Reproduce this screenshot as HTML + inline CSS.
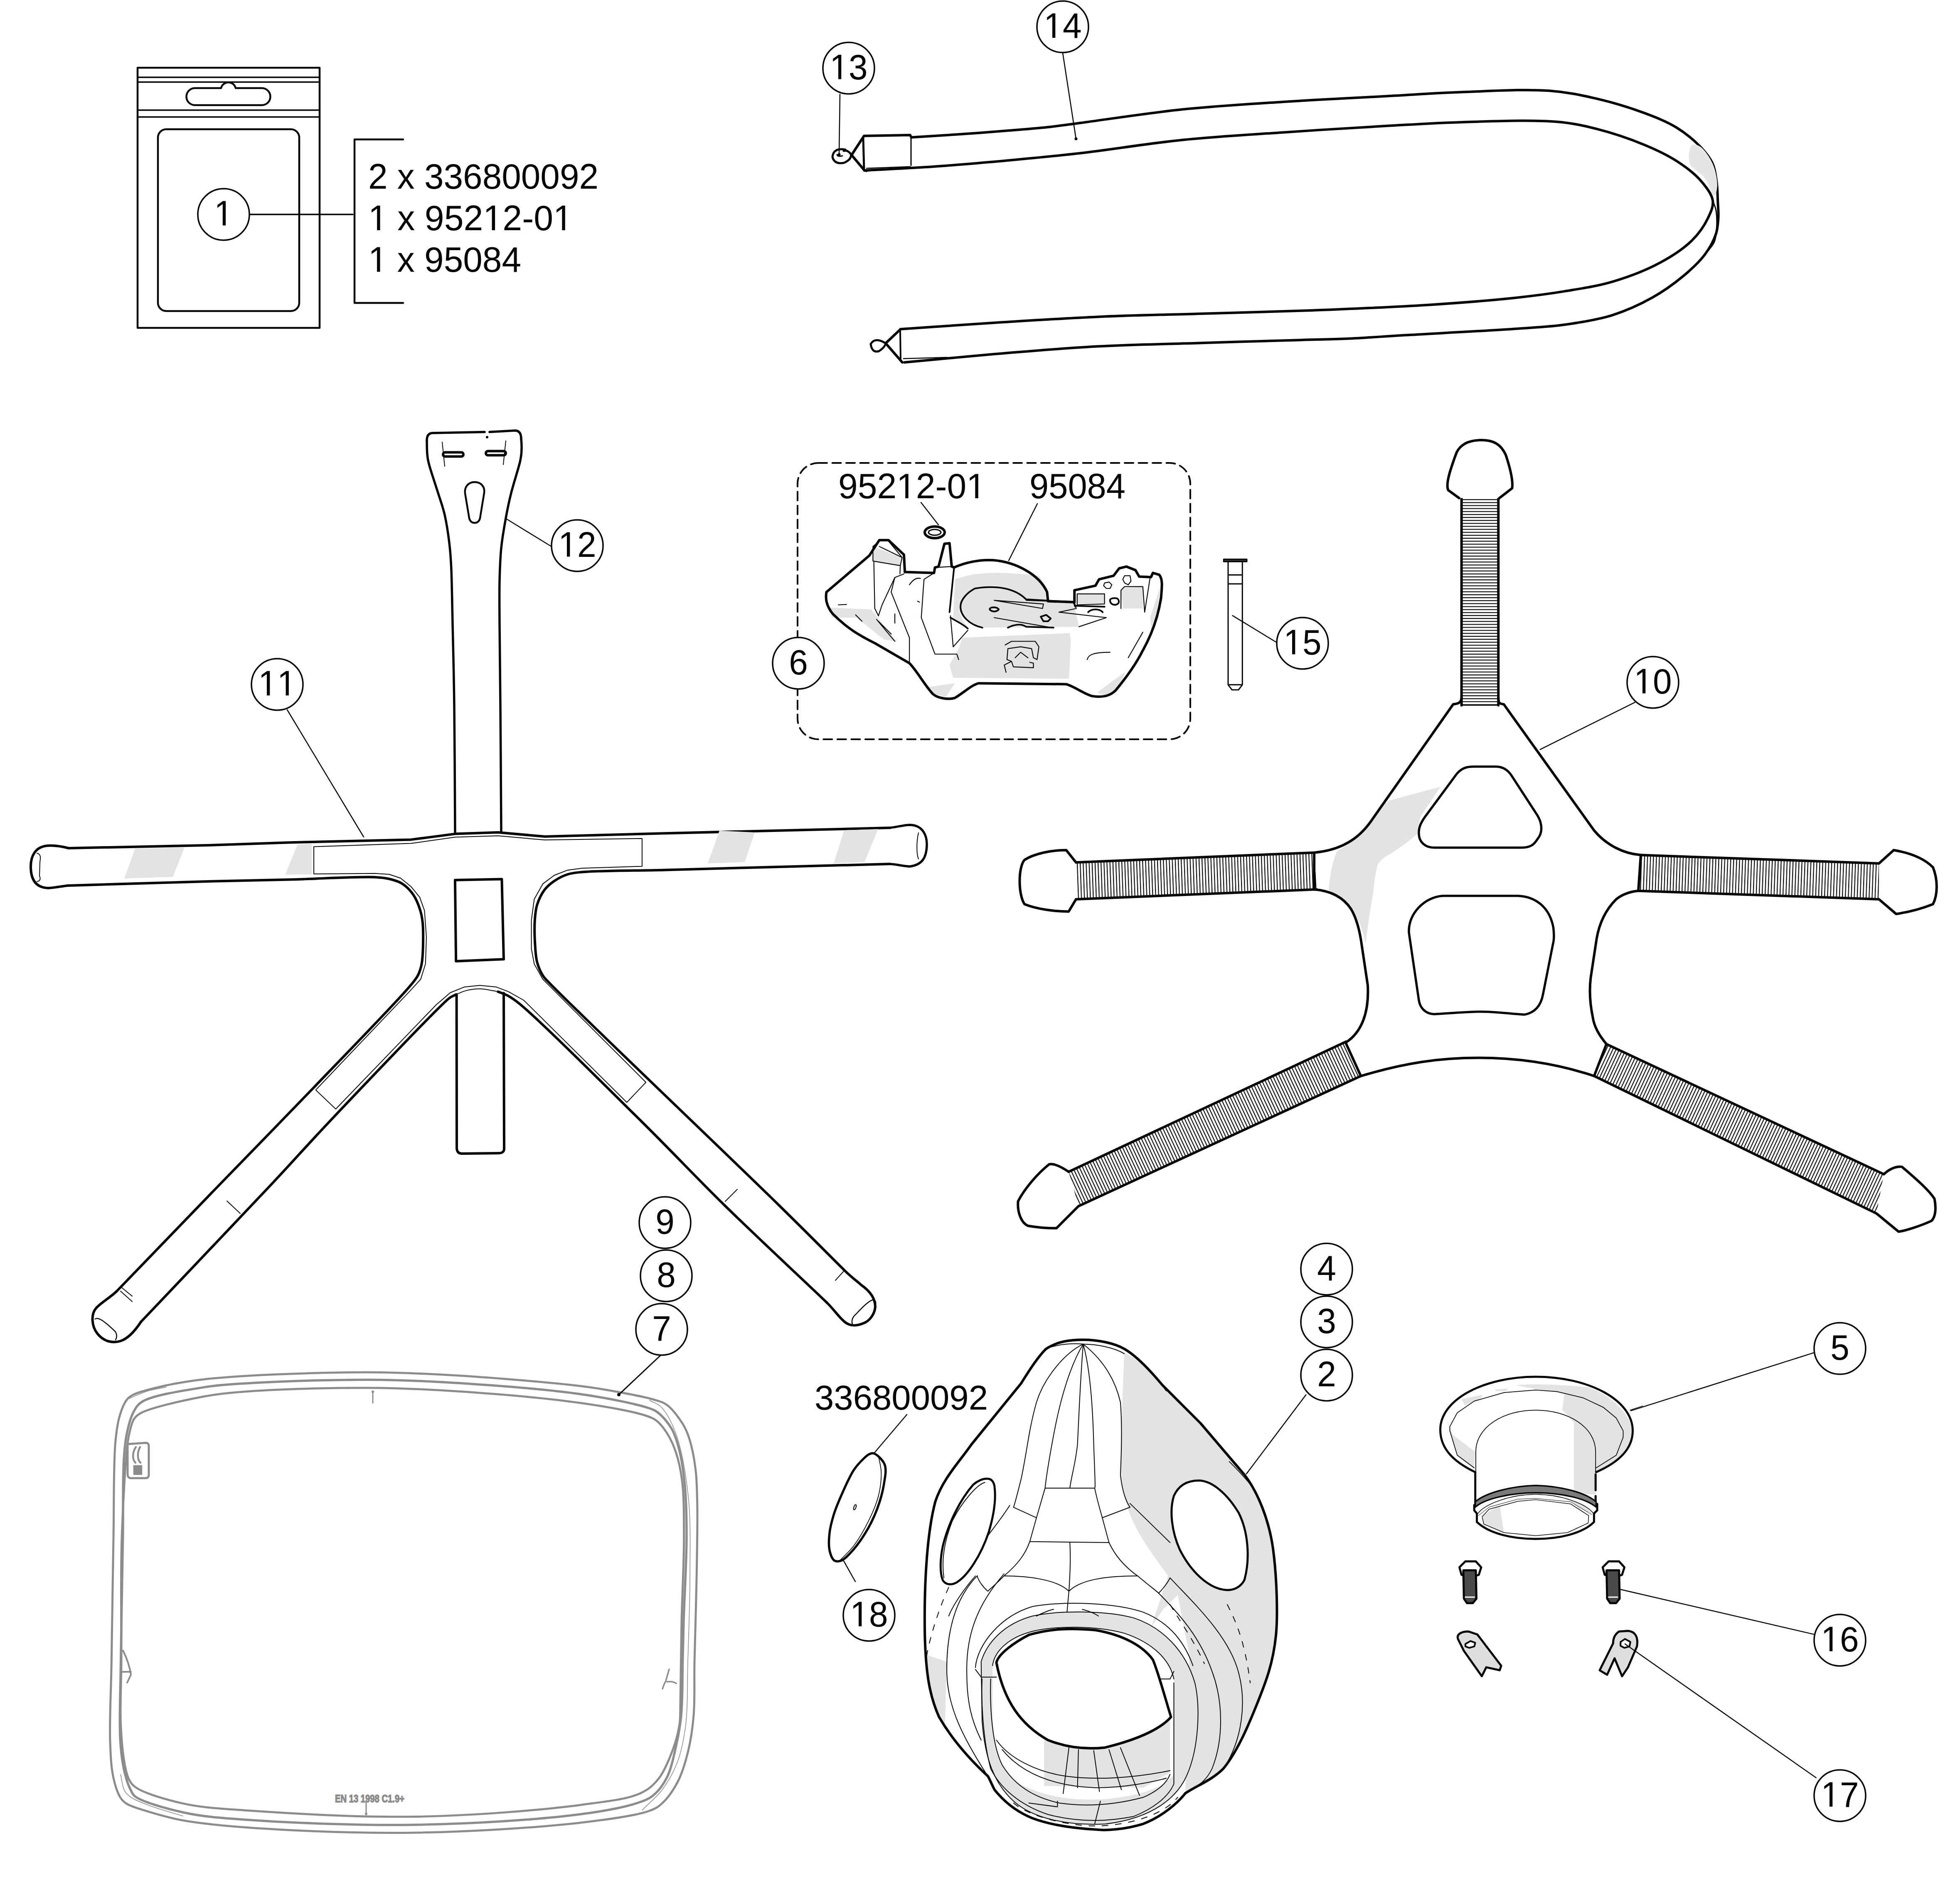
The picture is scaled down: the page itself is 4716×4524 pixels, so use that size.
<!DOCTYPE html>
<html><head><meta charset="utf-8">
<style>
html,body{margin:0;padding:0;background:#fff;width:4716px;height:4524px;overflow:hidden}
svg{display:block}
text{font-family:"Liberation Sans",sans-serif;fill:#050505}
path,line,rect,circle,ellipse,polygon,polyline{stroke-linejoin:round;stroke-linecap:round}
.ns *{vector-effect:non-scaling-stroke}
</style></head><body>
<svg width="4716" height="4524" viewBox="0 0 4716 4524" xmlns="http://www.w3.org/2000/svg">
<defs>
<pattern id="hh" width="20" height="7.3" patternUnits="userSpaceOnUse"><rect width="20" height="7.3" fill="#fff"/><rect y="0" width="20" height="1.6" fill="#222"/></pattern>
</defs>
<!-- BAG -->
<g fill="none" stroke="#050505" stroke-width="4.5">
<rect x="331" y="163" width="438" height="626" stroke-linejoin="miter"/>
<line x1="331" y1="186" x2="769" y2="186" stroke-width="3.5"/>
<line x1="331" y1="197.5" x2="769" y2="197.5" stroke-width="3.5"/>
<line x1="331" y1="265" x2="769" y2="265" stroke-width="3.5"/>
<line x1="331" y1="281.5" x2="769" y2="281.5" stroke-width="3.5"/>
<path d="M469 212 H532 A18 18 0 0 1 567 212 H630 A20.5 20.5 0 0 1 630 253 H469 A20.5 20.5 0 0 1 469 212 Z"/>
<rect x="380" y="311" width="340" height="437.5" rx="20"/>
<line x1="601" y1="516" x2="849" y2="516" stroke-width="3.5"/>
<path d="M970 335.5 H853 V729 H970" stroke-linecap="butt" stroke-linejoin="miter"/>
</g>
<g font-size="86">
<text x="886" y="454" textLength="554" lengthAdjust="spacingAndGlyphs">2 x 336800092</text>
<text x="886" y="554" textLength="492" lengthAdjust="spacingAndGlyphs">  x 952 2-0 </text>
<text x="886" y="654" textLength="368" lengthAdjust="spacingAndGlyphs">  x 95084</text>
</g>
<path d="M2192.9 330.6C2230.6 328.2 2267.6 326 2306.1 323.3C2346.1 320.5 2390.7 317.1 2428.6 314.1C2461.4 311.4 2490.9 309.3 2520.4 306.1C2547.9 303.1 2566.2 300.2 2600 295.7C2659.3 287.9 2763.1 271.7 2844.9 263.3C2926.4 254.8 3008.1 250.2 3089.8 244.9C3171.4 239.6 3258.9 235.5 3334.7 231.4C3400.3 227.9 3455.2 223.8 3518.4 221.6C3585.6 219.3 3667.6 213.9 3726.6 218.3C3770.7 221.6 3803.5 228.6 3841.5 237.4C3880.1 246.4 3922.3 259.2 3956.4 271.9C3984.9 282.6 4010.1 292.4 4033 306.4C4054.4 319.5 4075.1 336.3 4090.4 352.4C4103.4 365.9 4114.4 379.4 4121.1 394.5C4127.4 408.8 4128.6 425 4130.7 440.4C4132.7 455.7 4132.7 471.8 4133.3 486.4C4133.9 499.7 4135.3 512 4134.5 524.7C4133.7 537.5 4133.1 549.8 4128.8 563C4123.4 579 4113.7 597 4101.9 612.8C4088.8 630.4 4071.3 646.5 4052.2 662.6C4030 681.1 4003.3 700.6 3975.6 716.2C3946.2 732.7 3913.8 747.6 3879.8 758.3C3843.8 769.7 3803.4 775.9 3764.9 781.3C3726.8 786.7 3696.4 787.6 3650 790.9C3579.1 795.9 3455.9 802.2 3380.6 806.6C3326.3 809.8 3284.3 813.1 3240.3 815C3201.2 816.8 3173.7 816.9 3129.6 818.2C3064 820.1 2966.3 822.9 2884.7 825.5C2803.1 828 2721.5 829.1 2640 833.5C2558.3 837.9 2474.3 845.2 2395 851.8C2319.9 858.1 2249 865.3 2176 872" fill="none" stroke="#050505" stroke-width="6" />
<path d="M2079.6 410.2C2134.7 407.1 2188.4 404.9 2244.9 401C2304.5 396.9 2368.4 391.2 2428.6 385.7C2486.7 380.4 2537.8 375.7 2600 368.6C2674.4 360 2763.1 345.1 2844.9 336.7C2926.4 328.4 3008.1 324 3089.8 318.4C3171.4 312.8 3258.9 307.3 3334.7 303.1C3400.3 299.4 3453.8 295.6 3518.4 293.9C3590.1 291.9 3686.3 287.8 3745.8 293C3784.7 296.4 3808.4 301.8 3841.5 310.2C3878.4 319.6 3922.4 334.4 3956.4 348.5C3985 360.4 4010 372.1 4033 386.8C4054.3 400.5 4075.4 415.7 4090.4 432.8C4103.9 448 4118.7 466.2 4121.1 482.6C4123.1 496.8 4116.4 510.4 4109.6 524.7C4101.3 542.2 4088 561.8 4071.3 578.3C4051.4 598.1 4023.8 616.2 3994.7 631.9C3961.2 650.1 3918.6 666.4 3879.8 677.9C3842 689.1 3803.3 694.5 3764.9 700.9C3726.7 707.2 3694.2 711.4 3650 716.2C3589.9 722.7 3514.3 728.7 3436.7 733.7C3343.7 739.6 3226.2 744.2 3129.6 747.8C3043.4 751.1 2966.3 752.6 2884.7 755C2803.1 757.4 2721.6 758.8 2640 762.4C2558.3 766 2475.2 771.5 2395 776.5C2317.6 781.4 2243 786.8 2167 792" fill="none" stroke="#050505" stroke-width="6" />
<path d="M4121.1 482.6C4123.6 490.2 4127.1 496.8 4128.8 505.6C4130.8 516.6 4131.3 531.1 4130.7 543.9C4130 556.6 4129.7 570.6 4124.9 582.2C4120.1 593.6 4109.6 602.6 4101.9 612.8" fill="none" stroke="#050505" stroke-width="3" />
<path d="M4071.3 348.5C4064.7 353.2 4061.1 379.5 4065.6 392.6C4070.3 406.6 4091.9 415.6 4101.9 429C4111.6 441.8 4119.8 471.6 4124.9 471.1C4128.5 470.7 4131.4 457.4 4131.8 448.1C4132.5 434 4128.2 410.6 4121.1 394.5C4114.2 378.8 4100.8 359 4090.4 352.4C4084.1 348.3 4075.6 345.4 4071.3 348.5Z" fill="#e6e6e6" stroke="none" stroke-width="0" />
<path d="M2193 331 L2190 325 L2079 327 L2049 373 L2080 410 L2085 411" fill="none" stroke="#050505" stroke-width="6" />
<path d="M2192 327 L2192 398" fill="none" stroke="#050505" stroke-width="3" />
<path d="M2077 333 L2079 408" fill="none" stroke="#050505" stroke-width="5" />
<path d="M2085 405 L2190 401" fill="none" stroke="#050505" stroke-width="2.5" />
<path d="M2034 360 Q2005 355 2003 378 Q2008 396 2030 392 Q2048 385 2048 372 Q2040 360 2030 363" fill="none" stroke="#050505" stroke-width="5" />
<path d="M2027 375 Q2015 378 2014 372" fill="none" stroke="#050505" stroke-width="3" />
<path d="M2166 793 L2131 826 L2171 872" fill="none" stroke="#050505" stroke-width="6" />
<path d="M2166 797 L2167 866" fill="none" stroke="#050505" stroke-width="4" />
<path d="M2174 863 L2279 860" fill="none" stroke="#050505" stroke-width="2.5" />
<path d="M2131 826 Q2105 810 2095 828 Q2098 850 2115 845 Q2130 835 2131 826" fill="none" stroke="#050505" stroke-width="5" />
<path d="M2557 127 L2589 334" fill="none" stroke="#050505" stroke-width="2.5" />
<circle cx="2589" cy="334" r="3.5" fill="#050505"/>
<path d="M2021 227 L2019 372" fill="none" stroke="#050505" stroke-width="2.5" />
<circle cx="2019" cy="372" r="3.5" fill="#050505"/>
<path d="M1095 2003C1094.7 1952.5 1094 1783.8 1093 1700C1092 1616.2 1090.2 1554.7 1089 1500C1087.8 1445.3 1087.3 1404.3 1086 1372C1084.7 1339.7 1083.7 1328.2 1081 1306C1078.3 1283.8 1074.5 1259 1070 1239C1065.5 1219 1060.2 1205.8 1054 1186C1047.8 1166.2 1037.3 1135.5 1033 1120C1028.7 1104.5 1029 1103 1028 1093C1027 1083 1027.2 1065.5 1027 1060" fill="none" stroke="#050505" stroke-width="5.5" />
<path d="M1206 2003C1205.7 1952.5 1204.7 1783.8 1204 1700C1203.3 1616.2 1202.3 1550.2 1202 1500C1201.7 1449.8 1201.3 1429.2 1202 1399C1202.7 1368.8 1203.5 1344.3 1206 1319C1208.5 1293.7 1213 1269.2 1217 1247C1221 1224.8 1224.3 1208.5 1230 1186C1235.7 1163.5 1246.8 1129.7 1251 1112C1255.2 1094.3 1254.5 1089.3 1255 1080C1255.5 1070.7 1254.2 1060 1254 1056" fill="none" stroke="#050505" stroke-width="5.5" />
<path d="M1027 1060 Q1027 1043 1040 1042 L1166 1039.5 M1178 1039.5 L1240 1036 Q1254 1037 1254 1056" fill="none" stroke="#050505" stroke-width="5.5" />
<circle cx="1172" cy="1052" r="3" fill="#050505"/>
<path d="M1071 1088.5 H1110 A5 5 0 0 1 1110 1098.5 H1071 A5 5 0 0 1 1071 1088.5 Z" fill="none" stroke="#050505" stroke-width="6" />
<path d="M1174 1085.5 H1212 A5 5 0 0 1 1212 1095.5 H1174 A5 5 0 0 1 1174 1085.5 Z" fill="none" stroke="#050505" stroke-width="6" />
<path d="M1064 1064 L1070 1122 M1217 1061 L1211 1118" fill="none" stroke="#050505" stroke-width="2" />
<path d="M1142 1160 C1158 1160 1167 1172 1165 1186 L1155 1247 C1152 1262 1132 1262 1129 1247 L1119 1187 C1117 1172 1127 1160 1142 1160 Z" fill="none" stroke="#050505" stroke-width="4.5" />
<path d="M1219 1249 L1325 1314" fill="none" stroke="#050505" stroke-width="2.5" />
<path d="M691 1708 L875 2014" fill="none" stroke="#050505" stroke-width="2.5" />
<path d="M165 2041 L500 2034 L700 2027.3 L989.3 2020.4 L1094.9 2006.6 L1198.2 2003 L1310.7 2013.1 L1600 2005.3 L2141 1992" fill="none" stroke="#050505" stroke-width="6" />
<path d="M165 2041 C150 2037 135 2034 115 2035 C85 2037 74 2060 74 2085 C74 2115 85 2136 116 2137 C135 2136 150 2132 165 2131" fill="none" stroke="#050505" stroke-width="6" />
<path d="M89 2053 C100 2056 97 2066 96 2075 L95 2108 C99 2116 95 2121 89 2121" fill="none" stroke="#050505" stroke-width="2" />
<path d="M2141 1992 C2160 1990 2175 1985 2190 1985 C2220 1986 2231 2010 2230 2035 C2229 2065 2218 2081 2190 2085 C2175 2085 2160 2080 2141 2079" fill="none" stroke="#050505" stroke-width="5.5" />
<path d="M2210 2004 C2205 2025 2205 2055 2210 2067" fill="none" stroke="#050505" stroke-width="2" />
<path d="M165 2131C276.7 2127.7 402.7 2123.6 500 2121C575.2 2119 633 2118.1 700 2116.4C767.7 2114.7 864.7 2108.8 904.3 2110.9C920.7 2111.7 927.9 2112.7 938.8 2115.5C949.2 2118.1 959.6 2121.1 968.6 2126.9C978.1 2133.1 987 2142.4 993.9 2152.2C1000.9 2162.3 1006.1 2175.1 1009.9 2186.6C1013.5 2197.3 1015.4 2206.3 1016.8 2218.8C1018.7 2235.5 1018.3 2260.4 1017.8 2278.5C1017.3 2293.5 1017 2307.5 1014.5 2319.8C1012.5 2330 1010 2338.5 1005.4 2347.3C1000.3 2357 995.9 2361.6 984.7 2374.9C949.7 2416.4 829.8 2539 753 2619C677.9 2697.3 605.5 2770.9 529 2850C448.4 2933.3 363.7 3021.3 281 3107" fill="none" stroke="#050505" stroke-width="6" />
<path d="M281 3107 C262 3125 245 3133 232 3147 C218 3162 220 3192 235 3210 C250 3228 270 3233 290 3227 C305 3222 320 3210 339 3181" fill="none" stroke="#050505" stroke-width="6" />
<path d="M339 3181C443.7 3070.7 569.6 2939 653 2850C708.8 2790.4 737.8 2757.3 791.8 2700C866 2621.4 1016 2464.1 1058.2 2423.1C1070.7 2410.9 1075.9 2405.3 1083.4 2400.1C1088.4 2396.7 1092.6 2395.6 1097.2 2393.3" fill="none" stroke="#050505" stroke-width="6" />
<path d="M229 3174 C235 3170 245 3173 278 3205 C282 3212 281 3220 278 3224" fill="none" stroke="#050505" stroke-width="2.5" />
<path d="M546 2890 L578 2920 M290 3096 L318 3119 M290 3107 L318 3132" fill="none" stroke="#050505" stroke-width="2" />
<path d="M2141 2079C2027.3 2082 1898.6 2085.4 1800 2088C1724.5 2090 1666.6 2091.7 1600 2093.4C1533.4 2095.2 1439.2 2094.9 1400.2 2098.5C1384 2100 1376.8 2100.4 1365.8 2104C1354.6 2107.6 1343.1 2113.6 1333.7 2120C1324.9 2126 1317.3 2132.1 1310.7 2140.7C1303.1 2150.7 1296.3 2164.9 1292.3 2177.4C1288.6 2189.4 1287.8 2200.2 1286.8 2214.2C1285.6 2232.6 1286.5 2260 1287.8 2278.5C1288.7 2292.4 1289.2 2303.6 1292.3 2315.2C1295.4 2326.5 1300.3 2338.2 1306.1 2347.3C1311.3 2355.5 1313.8 2356.8 1324.5 2368C1380.8 2426.8 1746.9 2775.4 1874 2900C1942.1 2966.8 1978 3003.3 2030 3055" fill="none" stroke="#050505" stroke-width="6" />
<path d="M2030 3055 C2050 3075 2065 3085 2072 3092 C2095 3108 2106 3125 2106 3145 C2104 3165 2090 3180 2078 3184 C2060 3192 2045 3190 2035 3183 C2020 3172 2010 3155 1990 3135" fill="none" stroke="#050505" stroke-width="6" />
<path d="M1198.2 2386.4C1205.9 2389.4 1213.3 2391.3 1221.2 2395.6C1230.7 2400.7 1236.6 2404.4 1251 2416.2C1299.2 2455.7 1457 2613.2 1544.9 2700C1617.9 2772 1672.8 2831.2 1743 2900C1820.3 2975.7 1907.7 3056.7 1990 3135" fill="none" stroke="#050505" stroke-width="6" />
<path d="M2052 3190 C2048 3180 2050 3170 2060 3162 C2080 3140 2092 3130 2100 3128 C2105 3128 2108 3132 2107 3137" fill="none" stroke="#050505" stroke-width="2.5" />
<path d="M1745 2891 L1774 2862 M2010 3081 L2031 3058" fill="none" stroke="#050505" stroke-width="2" />
<path d="M1098.6 2393 L1099 2762 Q1099 2776 1112 2776 L1200 2775 Q1214 2775 1213 2762 L1212 2390" fill="none" stroke="#050505" stroke-width="6" />
<path d="M1097.2 2393.3C1104.8 2390.2 1111.6 2386.3 1120.1 2384.1C1130.3 2381.4 1143.3 2379.4 1154.6 2379.5C1165.5 2379.5 1178.7 2382.7 1186.7 2384.1C1191.5 2384.9 1194.4 2385.6 1198.2 2386.4" fill="none" stroke="#050505" stroke-width="2" />
<path d="M1094.9 2117.8 L1207.4 2115.5 L1212 2308.3 L1097.2 2312.9Z" fill="none" stroke="#050505" stroke-width="6" />
<path d="M755.1 2103.1 L755.1 2037.4 L989.3 2029.6 L1094.9 2014.4 L1198.2 2011.2 L1310.7 2021.3 L1544.9 2017.7 L1544.9 2084.7 L1400.2 2089.3 L1365.8 2093.9 L1333.7 2106.3 L1306.1 2126.9 L1285.5 2163.7 L1278.6 2214.2 L1278.6 2283.1 L1285.5 2319.8 L1306.1 2356.5 L1324.5 2374.9 L1554.1 2604.5 L1508.2 2652.7 L1260.2 2407 L1223.5 2386.4 L1193.6 2374.9 L1154.6 2371.2 L1117.9 2374.9 L1083.4 2388.7 L1049 2418.5 L807.9 2668.8 L759.7 2622.9 L987 2384.1 L1012.2 2356.5 L1023.7 2319.8 L1026 2255.5 L1021.4 2191.2 L1009.9 2159.1 L989.3 2133.8 L964 2113.2 L936.5 2104 L902 2101.7Z" fill="none" stroke="#050505" stroke-width="2" />
<path d="M325 2042 L444 2039.6 L416 2110 L299 2114Z" fill="#e3e3e3" stroke="none" stroke-width="0" />
<path d="M716 2032 L750 2030.5 L750 2104 L686 2105Z" fill="#e3e3e3" stroke="none" stroke-width="0" />
<path d="M1731 1999 L1816 2003 L1792 2074.5 L1703 2077.5Z" fill="#e3e3e3" stroke="none" stroke-width="0" />
<path d="M2031 1998 L2113 1995 L2080 2074.5 L2006 2077.5Z" fill="#e3e3e3" stroke="none" stroke-width="0" />
<path d="M1969 1114 H2814 A50 50 0 0 1 2864 1164 V1729 A50 50 0 0 1 2814 1779 H1969 A50 50 0 0 1 1919 1729 V1164 A50 50 0 0 1 1969 1114 Z" fill="none" stroke="#050505" stroke-width="4" stroke-dasharray="21 12.5" stroke-linecap="butt"/>
<g font-size="85"><text x="2017" y="1199" textLength="355" lengthAdjust="spacingAndGlyphs">952 2-0 </text><text x="2477" y="1199" textLength="231" lengthAdjust="spacingAndGlyphs">95084</text></g>
<path d="M2216 1209 L2258 1263" fill="none" stroke="#050505" stroke-width="2.5" />
<ellipse cx="2249" cy="1281" rx="24" ry="14" fill="none" stroke="#050505" stroke-width="6"/>
<ellipse cx="2249" cy="1281" rx="15" ry="7" fill="none" stroke="#050505" stroke-width="3"/>
<path d="M2496 1212 L2427 1349" fill="none" stroke="#050505" stroke-width="2.5" />
<g class="ns" transform="translate(1960,1280) scale(0.43878)"><path d="M65 330 L300 130 L355 45 L405 45 L490 125 L495 220 L655 225 L660 195 L680 190 L712 65 L740 62 L752 190 L765 195 C820 170 900 150 980 155 C1100 165 1230 230 1275 330 L1280 380 L1425 385 L1425 320 L1540 295 L1560 260 L1640 240 L1670 200 L1710 190 L1760 210 L1780 245 L1845 248 L1855 225 L1890 235 C1910 260 1905 300 1900 360 C1885 460 1850 560 1800 650 C1760 730 1700 810 1650 870 C1620 900 1580 910 1520 900 C1470 885 1430 850 1380 835 L900 830 C860 840 820 880 770 910 C740 920 680 915 650 890 C610 850 560 760 520 720 L330 610 C250 570 180 530 100 450 C60 400 60 360 65 330 Z" fill="#fff" stroke="none" stroke-width="0"/><path d="M810 580 L1400 555 L1405 600 L1395 805 L760 800 L740 730 L790 640 Z" fill="#e3e3e3" stroke="none" stroke-width="0"/><path d="M770 260 C880 220 1000 215 1230 240 C1260 280 1275 320 1280 370 L1160 380 C1120 330 1050 300 980 295 C900 295 830 330 800 390 C790 430 795 470 840 520 L760 470 Z" fill="#e3e3e3" stroke="none" stroke-width="0"/><path d="M880 310 C1000 290 1110 320 1160 370 L1420 385 L1450 520 L920 525 C850 500 800 450 800 400 C810 350 840 320 880 310 Z" fill="#e3e3e3" stroke="none" stroke-width="0"/><path d="M85 415 L310 425 L450 600 L380 590 L230 470 L95 470 Z" fill="#e3e3e3" stroke="none" stroke-width="0"/><path d="M320 80 L480 140 L470 185 L320 160 Z" fill="#e3e3e3" stroke="none" stroke-width="0"/><path d="M625 850 L770 830 L720 905 L650 890 Z" fill="#e3e3e3" stroke="none" stroke-width="0"/><path d="M1550 880 L1700 770 L1680 850 L1600 905 Z" fill="#e3e3e3" stroke="none" stroke-width="0"/><path d="M1840 470 L1895 300 L1880 460 L1850 560 Z" fill="#e3e3e3" stroke="none" stroke-width="0"/><path d="M1680 310 L1800 300 L1800 420 L1690 420 Z" fill="#e3e3e3" stroke="none" stroke-width="0"/><path d="M1435 340 L1590 340 L1590 395 L1435 395 Z" fill="#e3e3e3" stroke="none" stroke-width="0"/><path d="M65 330 L300 130 L355 45 L405 45 L490 125 L495 220 L655 225 L660 195 L680 190 L712 65 L740 62 L752 190 L765 195 C820 170 900 150 980 155 C1100 165 1230 230 1275 330 L1280 380 L1425 385 L1425 320 L1540 295 L1560 260 L1640 240 L1670 200 L1710 190 L1760 210 L1780 245 L1845 248 L1855 225 L1890 235 C1910 260 1905 300 1900 360 C1885 460 1850 560 1800 650 C1760 730 1700 810 1650 870 C1620 900 1580 910 1520 900 C1470 885 1430 850 1380 835 L900 830 C860 840 820 880 770 910 C740 920 680 915 650 890 C610 850 560 760 520 720 L330 610 C250 570 180 530 100 450 C60 400 60 360 65 330 Z" fill="none" stroke="#050505" stroke-width="6"/><path d="M320 160 L320 80 L355 50 M320 160 L470 185 L480 140 L405 50 M355 80 L480 140" fill="none" stroke="#050505" stroke-width="2.2"/><path d="M325 165 L330 420 L350 460 M470 185 L468 230" fill="none" stroke="#050505" stroke-width="2.2"/><path d="M490 230 L440 250 L370 400 L350 460" fill="none" stroke="#050505" stroke-width="2.2"/><path d="M440 250 L420 330 L520 580 L520 720" fill="none" stroke="#050505" stroke-width="2.2"/><path d="M655 225 L600 260 L585 470 L660 670 L780 670 L790 700" fill="none" stroke="#050505" stroke-width="2.2"/><path d="M660 195 L752 190 L765 195" fill="none" stroke="#050505" stroke-width="2.2"/><path d="M745 460 L760 630 L840 540" fill="none" stroke="#050505" stroke-width="2.2"/><path d="M985 375 L1255 395 L1250 420 L985 375 M985 470 L1300 525 M1160 375 L1425 385 L1435 420 L1340 440 L1600 470 L1450 520" fill="none" stroke="#050505" stroke-width="2.2"/><path d="M1440 340 L1440 400 L1590 395 L1590 340 Z M1680 420 L1680 320 L1700 300 L1800 300 L1810 440 M1840 250 L1810 440" fill="none" stroke="#050505" stroke-width="2.2"/><path d="M1700 240 L1690 260 L1700 280 L1720 290 L1735 270 L1730 240 Z M1590 280 L1585 295 L1600 310 L1620 310 L1630 290 L1615 275 Z" fill="none" stroke="#050505" stroke-width="2.2"/><path d="M1045 620 L1080 600 L1210 600 L1230 630 L1220 700 L1200 690 L1190 640 L1130 630 L1060 640 L1055 700 L1080 710 L1090 740 L1200 745 L1200 720 L1180 715 M1080 710 L1040 730 L1050 770 M1100 690 L1130 660 L1170 690" fill="none" stroke="#050505" stroke-width="2.2"/><path d="M1495 700 C1500 670 1540 660 1620 660 M1720 690 L1800 550 M130 400 L175 398" fill="none" stroke="#050505" stroke-width="2.2"/><path d="M520 290 C540 260 560 250 580 255 M565 380 L575 385 M440 450 L440 500 M225 455 L260 490 M340 480 L440 600 M350 490 L420 560" fill="none" stroke="#050505" stroke-width="2.2"/><path d="M765 195 L740 440" fill="none" stroke="#050505" stroke-width="4"/><path d="M880 310 C840 330 800 370 800 410 C800 460 850 510 920 525 M880 310 C1000 290 1100 310 1160 370 L1420 385 L1430 410" fill="none" stroke="#050505" stroke-width="4"/><path d="M1060 525 C1090 510 1130 500 1160 520 L1310 525" fill="none" stroke="#050505" stroke-width="4"/><path d="M745 470 C780 490 820 510 840 530" fill="none" stroke="#050505" stroke-width="4"/><path d="M1620 375 C1620 365 1640 360 1660 365 C1675 380 1670 395 1650 400 C1630 400 1620 390 1620 375 Z" fill="none" stroke="#050505" stroke-width="4"/><path d="M960 425 C960 410 1000 410 1010 425 C1000 440 970 440 960 425 Z M1240 465 L1270 455 L1295 475 L1280 490 L1255 490 Z" fill="none" stroke="#050505" stroke-width="4"/><path d="M1430 405 L1590 410 M1500 440 C1520 420 1560 420 1580 440" fill="none" stroke="#050505" stroke-width="4"/></g>
<g class="ns" transform="translate(1880,1080) scale(0.714286)"><path d="M1490 372 H1568 V380 H1490 Z" fill="#333" stroke="#050505" stroke-width="3"/><path d="M1505 380 L1505 795 L1518 812 L1540 812 L1553 795 L1553 380 M1505 425 H1553 M1505 455 H1553 M1505 795 H1553" fill="none" stroke="#050505" stroke-width="3"/><path d="M1520 562 L1668 652" fill="none" stroke="#050505" stroke-width="2.5"/></g>
<g class="ns" transform="translate(2400,1000) scale(1.18163)"><path d="M945 575 C944 585 938 587 928 588 L760 827 C735 862 700 885 645 890 L645 965 C680 968 705 982 720 1005 C732 1025 738 1050 742 1080 L754 1160 C757 1215 742 1256 709 1277 L740 1345 C830 1318 900 1308 980 1308 C1060 1308 1140 1320 1215 1345 L1240 1280 C1225 1262 1215 1245 1212 1224 C1206 1195 1205 1170 1208 1145 L1220 1066 C1226 1030 1240 1005 1260 985 C1272 975 1290 969 1305 968 L1310 895 C1275 892 1240 875 1215 845 L1031 588 C1022 587 1020 585 1020 575 Z" fill="#fff" stroke="none" stroke-width="0"/><path d="M902 756 L797 784 C780 795 770 815 758 831 C735 860 710 875 691 888 C680 915 676 945 674 973 C700 985 730 1010 740 1040 C745 1055 748 1070 750 1075 C755 1030 760 1000 765 973 C768 945 770 930 774 915 C780 905 790 897 801 892 C820 880 840 865 855 852 C858 840 859 830 860 820 C875 795 890 775 902 756 Z" fill="#e3e3e3" stroke="none" stroke-width="0"/></g>
<pattern id="hp0" width="7.15" height="40" patternUnits="userSpaceOnUse" patternTransform="rotate(90)"><rect width="7.15" height="40" fill="#fff"/><rect x="0" width="2.2" height="40" fill="#050505"/></pattern>
<path d="M3516.6 1198.5 L3605.3 1198.5 L3605.3 1697.2 L3516.6 1697.2Z" fill="url(#hp0)" stroke="none" stroke-width="0" />
<pattern id="hp1" width="7.15" height="40" patternUnits="userSpaceOnUse" patternTransform="rotate(-2)"><rect width="7.15" height="40" fill="#fff"/><rect x="0" width="2.2" height="40" fill="#050505"/></pattern>
<path d="M2589.1 2075.3 L3162.2 2051.7 L3168.1 2140.3 L2589.1 2163.9Z" fill="url(#hp1)" stroke="none" stroke-width="0" />
<pattern id="hp2" width="7.15" height="40" patternUnits="userSpaceOnUse" patternTransform="rotate(2)"><rect width="7.15" height="40" fill="#fff"/><rect x="0" width="2.2" height="40" fill="#050505"/></pattern>
<path d="M3947.9 2057.6 L4521 2077.6 L4521 2163.9 L3942 2143.8Z" fill="url(#hp2)" stroke="none" stroke-width="0" />
<pattern id="hp3" width="7.15" height="40" patternUnits="userSpaceOnUse" patternTransform="rotate(-25)"><rect width="7.15" height="40" fill="#fff"/><rect x="0" width="2.2" height="40" fill="#050505"/></pattern>
<path d="M2571.3 2819.7 L3239 2506.6 L3274.4 2589.3 L2595 2902.4Z" fill="url(#hp3)" stroke="none" stroke-width="0" />
<pattern id="hp4" width="7.15" height="40" patternUnits="userSpaceOnUse" patternTransform="rotate(25)"><rect width="7.15" height="40" fill="#fff"/><rect x="0" width="2.2" height="40" fill="#050505"/></pattern>
<path d="M3865.2 2512.5 L4532.8 2825.6 L4515.1 2920.1 L3835.7 2589.3Z" fill="url(#hp4)" stroke="none" stroke-width="0" />
<g class="ns" transform="translate(2400,1000) scale(1.18163)"><path d="M945 575 C944 585 938 587 928 588 L760 827 C735 862 700 885 645 890 L645 965 C680 968 705 982 720 1005 C732 1025 738 1050 742 1080 L754 1160 C757 1215 742 1256 709 1277 L740 1345 C830 1318 900 1308 980 1308 C1060 1308 1140 1320 1215 1345 L1240 1280 C1225 1262 1215 1245 1212 1224 C1206 1195 1205 1170 1208 1145 L1220 1066 C1226 1030 1240 1005 1260 985 C1272 975 1290 969 1305 968 L1310 895 C1275 892 1240 875 1215 845 L1031 588 C1022 587 1020 585 1020 575" fill="none" stroke="#050505" stroke-width="6"/><path d="M945 590 L1020 590" fill="none" stroke="#050505" stroke-width="2"/><path d="M945 168 L945 590 M1020 168 L1020 590 M160 910 L645 890 M160 985 L650 965 M1310 895 L1795 912 M1305 968 L1795 985 M145 1540 L710 1275 M165 1610 L740 1345 M1240 1280 L1805 1545 M1215 1345 L1790 1625" fill="none" stroke="#050505" stroke-width="6"/><path d="M940 168 L918 152 C912 140 922 110 935 75 C945 55 965 50 985 50 C1010 50 1025 58 1035 80 C1045 110 1050 135 1048 148 L1022 168" fill="#fff" stroke="#050505" stroke-width="6"/><path d="M160 910 L140 885 C110 885 75 892 55 905 C42 920 42 975 55 995 C80 1005 115 1010 145 1010 L160 985" fill="#fff" stroke="#050505" stroke-width="6"/><path d="M1795 912 L1825 885 C1855 890 1885 900 1905 920 C1915 945 1915 975 1905 995 C1880 1005 1850 1012 1830 1015 L1795 985" fill="#fff" stroke="#050505" stroke-width="6"/><path d="M145 1540 C130 1530 115 1522 105 1525 C80 1545 55 1575 42 1600 C40 1625 50 1645 62 1650 C90 1655 110 1655 120 1655 L165 1610" fill="#fff" stroke="#050505" stroke-width="6"/><path d="M1805 1545 C1815 1535 1830 1528 1842 1530 C1865 1550 1895 1575 1908 1595 C1912 1615 1910 1632 1902 1640 C1880 1650 1850 1660 1835 1662 L1790 1625" fill="#fff" stroke="#050505" stroke-width="6"/><path d="M935 730 C945 718 955 715 970 715 L1015 715 C1030 715 1040 722 1048 735 L1100 815 C1110 832 1110 850 1100 862 C1092 875 1085 880 1065 880 L890 880 C870 880 858 868 858 850 C858 838 862 830 870 818 Z" fill="none" stroke="#050505" stroke-width="5.5"/><path d="M907 978 L1060 978 C1100 980 1125 1005 1132 1043 C1134 1060 1133 1070 1131 1077 L1111 1178 C1108 1195 1100 1215 1073 1220 C1040 1218 1010 1213 978 1214 C940 1215 915 1218 889 1219 C870 1218 860 1205 858 1190 L838 1054 C835 1015 870 980 907 978 Z" fill="none" stroke="#050505" stroke-width="5.5"/><path d="M1105 680 L1298 584" fill="none" stroke="#050505" stroke-width="2.5"/></g>
<path d="M273 3700C274.5 3618.2 272.8 3522.8 277.7 3470C280.3 3441.9 282.8 3424.3 288.3 3406C292.7 3391.4 298.6 3376.5 305.3 3368C309.8 3362.3 312.8 3360.2 320.2 3356.4C335.7 3348.5 372.1 3340 399 3334C426.6 3327.8 453.4 3323.8 484 3320C519.6 3315.6 552.7 3313 600 3310.4C674.1 3306.3 797.3 3301.9 885.7 3302.2C962.3 3302.5 1022.6 3305.3 1100 3310C1191.7 3315.6 1330.9 3327.3 1400 3335.7C1436.7 3340.2 1455.6 3343.7 1484 3349C1513.4 3354.4 1551.4 3361.2 1573.4 3368C1586.9 3372.2 1594.8 3373.5 1605 3381C1618.5 3391 1634.4 3412.7 1643.6 3427.7C1650.8 3439.4 1654.1 3448 1658.5 3461.7C1664.7 3481.1 1670.2 3508.8 1673.4 3534C1676.9 3561.1 1677 3585.4 1677.7 3619C1678.7 3668.1 1677.1 3738.2 1676 3800C1674.9 3865 1672.2 3940.8 1671 4000C1670 4047.3 1672.2 4089.5 1669 4127.7C1666.4 4159 1662.6 4185.7 1656 4212.8C1649.7 4238.7 1642.3 4265.1 1631 4287C1620.7 4307 1605.9 4327.9 1592.6 4340C1582.9 4348.8 1577.4 4352.1 1562.8 4357.5C1530.9 4369.2 1466.3 4377.9 1400 4385.7C1297.8 4397.7 1137.5 4407.7 1008 4410C880.9 4412.3 734 4406.6 630 4400C556.6 4395.3 492.8 4389.8 442.8 4381C408.7 4375 382.6 4367.2 357.7 4359.6C337.7 4353.5 316.3 4347.9 304.5 4340.4C297.3 4335.8 294 4332.6 289.6 4325.5C282.6 4314.4 276.6 4295.4 272.6 4276.6C267.4 4252.4 266.2 4225.6 265 4191.5C263.2 4140.5 267.1 4071 268.3 4000C269.8 3911.2 271.3 3793.4 273 3700Z" fill="none" stroke="#8c8c8c" stroke-width="5" />
<path d="M295.7 3700C296.7 3630.3 295 3558.7 297.9 3512.8C299.6 3485.9 301.2 3468.7 305.3 3449C309 3431.4 313.2 3413.3 320.2 3400C325.9 3389.1 329.3 3381.2 341.5 3373.4C366.9 3357.3 438.7 3346.9 484 3339.4C524.4 3332.7 552.7 3331.3 600 3328.4C674.1 3323.8 797.3 3319.9 885.7 3320.2C962.3 3320.5 1022.6 3323.1 1100 3328C1191.7 3333.8 1315.5 3342.7 1400 3355.3C1462.8 3364.6 1534.4 3378.9 1562.8 3389C1573.6 3392.8 1576.8 3394.2 1584 3400C1594.4 3408.3 1607.6 3423.4 1616 3438C1625 3453.6 1629.9 3471.3 1635 3491.5C1641.2 3516.3 1645.1 3545.5 1648 3576.6C1651.4 3613.8 1652.1 3653.9 1652 3700C1651.9 3758.7 1646.6 3844.8 1645 3900C1643.8 3939 1643.5 3964.6 1642.6 4000C1641.6 4040 1642.6 4091 1639 4127.7C1636.3 4155.9 1632.2 4177.4 1626.6 4202C1620.9 4227 1615.2 4256 1605 4276.6C1596.5 4293.6 1585.2 4308.9 1573.4 4319C1563.6 4327.4 1556.5 4330.6 1541.5 4336C1511.6 4346.8 1459.3 4357.3 1400 4365.3C1302.3 4378.6 1140 4388.5 1008 4391C873.4 4393.5 704.1 4387 600 4379.6C535.2 4375 490.9 4372.2 442.8 4361.7C400.4 4352.4 343.2 4336.2 325.7 4323.4C318.9 4318.4 318.4 4315.1 315 4308.5C309.6 4298.2 304 4282.4 300 4266C294.8 4244.8 291.7 4222.2 289.6 4191.5C286.3 4142.5 289.8 4071 290.6 4000C291.6 3911.2 294.4 3788.3 295.7 3700Z" fill="none" stroke="#8c8c8c" stroke-width="5.5" />
<path d="M293 3700C295.7 3618.2 301.9 3511.4 307.4 3470C309.4 3454.5 311.1 3448 313.8 3438.3C316.2 3429.8 317.9 3421.4 322.3 3414.9C326.5 3408.7 330 3405 339.4 3400C363.4 3387.2 438.2 3370.4 484 3361.7C524.5 3354 552.7 3351.5 600 3348C674 3342.6 797.3 3339.4 885.7 3339.8C962.3 3340.2 1022.7 3342.9 1100 3348C1191.7 3354.1 1317.1 3364.5 1400 3376.5C1459.4 3385.1 1521.9 3396.3 1552 3406C1565.4 3410.4 1571.6 3412.5 1580 3419C1589.5 3426.3 1597.6 3437.3 1605 3449C1613.5 3462.4 1620.8 3478.2 1626.6 3495.7C1633.5 3516.4 1638.2 3538.6 1641.5 3566C1646 3603.4 1645.6 3650.9 1645.7 3700C1645.8 3760 1641.5 3833.3 1640 3900C1638.6 3966.7 1638.2 4055.9 1637 4100C1636.4 4121.9 1637.6 4131.7 1635 4149C1632 4169 1626 4191.6 1618 4212.8C1609.4 4235.6 1598.3 4263.3 1584 4281C1571.9 4295.9 1561.3 4305.8 1541.5 4315C1509.3 4330 1459.2 4334.9 1400 4342.9C1302.2 4356 1140 4368.9 1008 4371.4C873.4 4373.9 704.1 4364.3 600 4357C535.2 4352.4 490.6 4350.8 442.8 4340.4C401 4331.3 348.4 4315.5 327.9 4302C318.5 4295.8 315.3 4291.1 310.9 4283C305.4 4272.9 303 4260.5 300 4244.7C295.3 4220.1 292.2 4184.5 290.6 4149C288.6 4104.9 291.6 4058.3 292 4000C292.5 3917.3 289.9 3793.3 293 3700Z" fill="none" stroke="#8c8c8c" stroke-width="5" />
<path d="M1563 3370C1572 3375 1581.5 3376.5 1590 3385C1603.1 3398.1 1616.1 3422.2 1626 3449C1640.4 3487.8 1650.1 3545.9 1656 3600C1662.7 3661.7 1660.2 3733.3 1660 3800C1659.8 3866.7 1656.8 3938.1 1655 4000C1653.4 4053.6 1655.5 4106.6 1650 4150C1645.7 4184 1640.1 4213 1630 4240C1620.8 4264.4 1608.5 4286.4 1594 4306C1580 4324.9 1561.3 4339.3 1545 4356" fill="none" stroke="#8c8c8c" stroke-width="1.6" />
<path d="M290 4270C293.3 4283.3 294.5 4300.4 300 4310C303.9 4316.9 308.1 4320.2 315 4325C325.5 4332.2 342.6 4338.5 360 4345C382.6 4353.5 413.3 4361.7 440 4370" fill="none" stroke="#8c8c8c" stroke-width="1.6" />
<path d="M305 3368C313.3 3364.3 321.2 3360.5 330 3357C339.5 3353.2 349.2 3349.1 360 3346C372.3 3342.6 386.7 3340.7 400 3338" fill="none" stroke="#8c8c8c" stroke-width="1.6" />
<path d="M307 3475 L352 3472 Q358 3473 358 3480 L358 3550 Q357 3557 350 3557 L313 3557 Q307 3555 307 3548 Z" fill="none" stroke="#8c8c8c" stroke-width="5" />
<path d="M327 3482 C318 3495 318 3512 326 3520 M337 3482 C330 3495 330 3512 338 3520" fill="none" stroke="#8c8c8c" stroke-width="4.5" />
<path d="M322 3527 H341 V3548 H322 Z" fill="#8c8c8c" stroke="#8c8c8c" stroke-width="2.5" />
<path d="M897 3349 L897 3376" fill="none" stroke="#8c8c8c" stroke-width="3" />
<circle cx="897" cy="3349" r="3" fill="#8c8c8c"/>
<path d="M881 4337 L881 4365" fill="none" stroke="#8c8c8c" stroke-width="3" />
<circle cx="881" cy="4365" r="3" fill="#8c8c8c"/>
<text x="806" y="4337" font-size="25" font-weight="bold" textLength="167" lengthAdjust="spacingAndGlyphs" style="fill:#8c8c8c;stroke:#8c8c8c;stroke-width:1.5">EN 13  1998 C1.9+</text>
<path d="M296 3972 C305 3990 312 4010 315 4030 L306 4049 M294 4023 L315 4023" fill="none" stroke="#8c8c8c" stroke-width="4" />
<path d="M1610 4017 L1602 4045 C1598 4052 1596 4058 1594 4064 M1605 4047 C1612 4046 1620 4046 1627 4051" fill="none" stroke="#8c8c8c" stroke-width="3.5" />
<path d="M1592 3259 L1489 3356" fill="none" stroke="#050505" stroke-width="3" />
<circle cx="1489" cy="3356" r="4" fill="#050505"/>
<text x="1960" y="3392" font-size="84" textLength="417" lengthAdjust="spacingAndGlyphs">336800092</text>
<path d="M2102.7 3497.5C2110.2 3500 2124.4 3513.2 2128.7 3524.5C2133.5 3537.1 2129.4 3554.6 2126.9 3571C2123.9 3590.2 2117.6 3612.4 2110 3632.4C2102.2 3652.8 2091.8 3673.7 2080.3 3692C2069.3 3709.6 2053.9 3729.3 2043 3740.4C2036.2 3747.3 2030.9 3753 2024.5 3755.3C2019.1 3757.2 2012.2 3758 2007.7 3755.3C2002.3 3751.9 1998.7 3741.8 1996.5 3733C1993.7 3721.7 1994.2 3706 1995.6 3692C1997.1 3676.9 2001 3661.5 2005.9 3645.5C2011.4 3627.5 2020.1 3607.7 2028.2 3589.6C2036.2 3571.8 2045 3551.5 2054.3 3537.5C2061.4 3526.8 2069.6 3518.2 2076.6 3511.4C2081.8 3506.3 2086.6 3501.5 2091.5 3499.3C2095.3 3497.6 2098.6 3496.1 2102.7 3497.5Z" fill="#fff" stroke="#050505" stroke-width="5.5" />
<path d="M2020.7 3755.3C2031.8 3743.5 2043.4 3734 2054 3720C2066.6 3703.3 2079.6 3680.8 2089.6 3660.4C2099.4 3640.5 2108.7 3619.3 2113.8 3599C2118.5 3580.2 2120.7 3560 2120.3 3543C2119.9 3528.8 2116 3517 2113.8 3504" fill="none" stroke="#050505" stroke-width="1.8" />
<path d="M2182 3404 L2103 3497" fill="none" stroke="#050505" stroke-width="2.5" />
<path d="M2030 3756 L2058 3806" fill="none" stroke="#050505" stroke-width="2.5" />
<ellipse cx="2057" cy="3627" rx="2.5" ry="6.5" transform="rotate(20 2057 3627)" fill="none" stroke="#050505" stroke-width="2"/>
<g class="ns" transform="translate(2200,3200) scale(0.45918)"><path d="M885 52 C960 52 1050 70 1100 100 C1170 140 1250 230 1300 290 L1500 490 L1730 760 C1800 850 1860 1000 1880 1150 C1900 1300 1905 1500 1895 1600 C1880 1750 1840 1850 1800 1950 C1760 2050 1700 2200 1620 2299 C1560 2360 1480 2389 1420 2429 C1380 2480 1300 2550 1200 2589 C1100 2620 1000 2625 950 2619 C800 2610 700 2590 620 2560 C520 2520 460 2460 420 2410 C400 2370 390 2345 385 2339 C300 2260 200 2150 130 2030 C80 1920 60 1800 55 1600 C50 1300 70 1050 110 900 C150 780 230 700 300 600 L560 280 C610 200 650 140 690 100 C750 60 820 52 885 52 Z" fill="#fff" stroke="none" stroke-width="0"/><path d="M1100 120 C1200 170 1260 240 1300 290 L1500 490 L1730 760 C1800 850 1860 1000 1880 1150 C1900 1300 1905 1500 1895 1600 C1880 1750 1840 1850 1800 1950 C1760 2050 1700 2200 1620 2299 C1560 2360 1480 2389 1420 2429 L1440 1700 L1380 1390 L1300 1470 L1240 1560 L1300 1380 L1330 1290 C1250 1180 1160 1060 1120 940 C1080 820 1080 700 1085 600 L1090 380 Z" fill="#e3e3e3" stroke="none" stroke-width="0"/><path d="M350 1739 C380 1640 470 1540 620 1500 C750 1470 1000 1470 1150 1510 C1300 1560 1420 1680 1470 1850 C1500 1980 1490 2190 1430 2330 C1380 2450 1250 2560 1000 2590 C800 2600 620 2560 520 2470 C420 2380 370 2250 355 2050 Z" fill="#e3e3e3" stroke="none" stroke-width="0"/><path d="M55 1700 C60 1850 90 1950 160 2080 L170 1740 Z" fill="#e3e3e3" stroke="none" stroke-width="0"/><path d="M410 1760 C420 1680 500 1610 620 1580 C750 1550 950 1550 1100 1590 C1250 1640 1340 1730 1360 1830 L1360 2330 C1300 2400 1200 2440 1000 2460 C800 2470 650 2440 520 2360 C450 2290 420 2200 410 2050 Z" fill="#fff" stroke="none" stroke-width="0"/><path d="M680 2150 L1340 2030 L1340 2320 L1200 2400 L680 2390 Z" fill="#e3e3e3" stroke="none" stroke-width="0"/><path d="M430 1744 C440 1700 520 1640 600 1599 C700 1570 800 1560 950 1574 C1100 1600 1200 1660 1250 1729 C1280 1800 1320 1950 1345 2029 C1300 2080 1200 2140 1000 2189 C900 2200 800 2190 700 2150 C560 2070 470 1950 430 1744 Z" fill="#fff" stroke="none" stroke-width="0"/><path d="M700 95 C780 70 850 72 885 75 C960 75 1050 95 1100 125" fill="none" stroke="#050505" stroke-width="2"/><path d="M885 75 C790 120 680 250 640 380 C600 520 590 640 560 780 C540 860 530 900 520 930" fill="none" stroke="#050505" stroke-width="2"/><path d="M885 75 C820 180 770 350 740 500 C710 650 690 780 685 830 L640 985 L605 1110 C580 1180 540 1230 470 1290 C420 1340 395 1360 385 1370 C350 1340 330 1300 330 1290" fill="none" stroke="#050505" stroke-width="2"/><path d="M885 75 C870 250 860 500 855 600 C845 700 820 780 815 830" fill="none" stroke="#050505" stroke-width="2"/><path d="M885 75 C920 200 935 400 940 600 C945 750 950 830 945 830 C960 900 975 950 985 985 L1020 1115 C1050 1180 1100 1240 1170 1290 C1230 1340 1270 1370 1280 1380 C1310 1350 1330 1320 1340 1300" fill="none" stroke="#050505" stroke-width="2"/><path d="M885 75 C980 150 1050 250 1080 380 C1090 500 1085 650 1080 760 C1090 850 1110 900 1130 930" fill="none" stroke="#050505" stroke-width="2"/><path d="M685 830 L945 830 M605 1110 L1020 1115 M520 930 L640 985 M985 985 L1130 930 M1130 910 L1340 1115" fill="none" stroke="#050505" stroke-width="2"/><path d="M470 1290 C600 1290 750 1310 810 1370 C870 1310 1000 1290 1170 1290 M815 1115 C820 1200 815 1300 810 1370 L800 1480" fill="none" stroke="#050505" stroke-width="2"/><path d="M500 920 C450 1000 380 1080 350 1130 M320 1290 C250 1370 200 1450 180 1500" fill="none" stroke="#050505" stroke-width="2"/><path d="M1100 100 C1200 170 1260 240 1320 320 M1650 690 C1720 760 1770 820 1790 850" fill="none" stroke="#050505" stroke-width="2"/><path d="M330 1289 C230 1390 170 1550 170 1780 C170 1950 230 2100 385 2339" fill="none" stroke="#050505" stroke-width="2"/><path d="M470 1279 C330 1440 270 1600 275 1800 C275 1950 300 2050 350 2150" fill="none" stroke="#050505" stroke-width="2"/><path d="M1280 1380 C1400 1500 1500 1620 1560 1790 C1620 1950 1620 2150 1560 2300 C1520 2380 1480 2389 1420 2429" fill="none" stroke="#050505" stroke-width="2"/><path d="M1340 1300 C1450 1420 1650 1600 1700 1800 C1740 1950 1720 2150 1620 2299" fill="none" stroke="#050505" stroke-width="2"/><path d="M350 1739 C380 1640 470 1540 620 1500 C750 1470 1000 1470 1150 1510 C1300 1560 1420 1680 1470 1850 C1500 1980 1490 2190 1430 2330 C1380 2450 1250 2560 1000 2590 C800 2600 620 2560 520 2470 C420 2380 370 2250 355 2050 Z" fill="none" stroke="#050505" stroke-width="2"/><path d="M320 1770 C330 1650 450 1500 620 1450 C800 1420 1050 1430 1200 1480 C1350 1540 1420 1650 1460 1760" fill="none" stroke="#050505" stroke-width="2"/><path d="M410 1760 C420 1680 500 1610 620 1580 C750 1550 950 1550 1100 1590 C1250 1640 1340 1730 1360 1830" fill="none" stroke="#050505" stroke-width="2"/><path d="M320 1780 L350 1820 L430 1820 M1290 1830 L1340 1830 L1360 1790" fill="none" stroke="#050505" stroke-width="2"/><path d="M355 1830 C350 1950 360 2150 400 2300 C450 2400 550 2490 700 2540 C850 2580 1000 2580 1150 2550 C1250 2510 1330 2450 1360 2380 L1360 1850" fill="none" stroke="#050505" stroke-width="2"/><path d="M400 1830 C395 2000 410 2180 460 2280 C520 2380 620 2450 760 2480 C900 2500 1050 2490 1200 2450 C1270 2420 1320 2380 1340 2330" fill="none" stroke="#050505" stroke-width="2"/><path d="M430 2150 C500 2250 650 2320 800 2340 C950 2360 1150 2350 1340 2310 M460 2200 C550 2310 700 2390 950 2400 C1100 2400 1250 2370 1320 2350" fill="none" stroke="#050505" stroke-width="2"/><path d="M810 2190 L780 2430 M860 2200 L855 2400 M940 2205 L970 2420 M1020 2200 L1085 2410 M1080 2190 L1180 2440" fill="none" stroke="#050505" stroke-width="2"/><path d="M600 2480 L750 2500 L750 2470 M975 2470 L945 2590" fill="none" stroke="#050505" stroke-width="2"/><path d="M640 1500 C680 1480 720 1465 730 1465 M880 1465 C920 1475 950 1490 965 1500" fill="none" stroke="#050505" stroke-width="2"/><path d="M180 1350 C120 1480 70 1650 60 1742" fill="none" stroke="#050505" stroke-width="2" stroke-dasharray="14 18"/><path d="M1640 1440 C1680 1520 1730 1620 1760 1850" fill="none" stroke="#050505" stroke-width="2" stroke-dasharray="14 18"/><path d="M1340 1440 C1400 1540 1460 1620 1520 1750" fill="none" stroke="#050505" stroke-width="2" stroke-dasharray="14 18"/><path d="M520 2480 C600 2550 800 2600 950 2600 C1100 2600 1300 2550 1380 2450" fill="none" stroke="#050505" stroke-width="2" stroke-dasharray="14 18"/><path d="M885 52 C960 52 1050 70 1100 100 C1170 140 1250 230 1300 290 L1500 490 L1730 760 C1800 850 1860 1000 1880 1150 C1900 1300 1905 1500 1895 1600 C1880 1750 1840 1850 1800 1950 C1760 2050 1700 2200 1620 2299 C1560 2360 1480 2389 1420 2429 C1380 2480 1300 2550 1200 2589 C1100 2620 1000 2625 950 2619 C800 2610 700 2590 620 2560 C520 2520 460 2460 420 2410 C400 2370 390 2345 385 2339 C300 2260 200 2150 130 2030 C80 1920 60 1800 55 1600 C50 1300 70 1050 110 900 C150 780 230 700 300 600 L560 280 C610 200 650 140 690 100 C750 60 820 52 885 52 Z" fill="none" stroke="#050505" stroke-width="6"/><path d="M380 780 C400 780 415 790 420 820 C428 880 420 960 390 1060 C350 1180 280 1290 220 1325 C190 1340 160 1335 148 1310 C133 1270 135 1200 150 1130 C180 1010 240 890 310 810 C335 790 360 780 380 780 Z" fill="#fff" stroke="#050505" stroke-width="5"/><path d="M370 800 C330 810 250 900 200 1000 C160 1100 140 1200 155 1300" fill="none" stroke="#050505" stroke-width="2"/><path d="M1490 790 C1560 790 1640 860 1700 960 C1750 1060 1760 1200 1730 1310 C1710 1350 1670 1370 1620 1362 C1540 1350 1450 1270 1390 1150 C1350 1060 1335 950 1360 870 C1385 815 1430 790 1490 790 Z" fill="#fff" stroke="#050505" stroke-width="5"/><path d="M430 1744 C440 1700 520 1640 600 1599 C700 1570 800 1560 950 1574 C1100 1600 1200 1660 1250 1729 C1280 1800 1320 1950 1345 2029 C1300 2080 1200 2140 1000 2189 C900 2200 800 2190 700 2150 C560 2070 470 1950 430 1744 Z" fill="none" stroke="#050505" stroke-width="6"/><path d="M1740 755 L2052 341" fill="none" stroke="#050505" stroke-width="2.5"/></g>
<g class="ns" transform="translate(3440,3290) scale(0.2551)"><path d="M430 990 C200 880 100 750 100 590 C100 300 520 90 1000 90 C1500 90 1915 310 1915 600 C1915 760 1800 890 1570 990 L1565 1300 C1565 1500 1300 1620 1000 1620 C700 1620 430 1500 430 1300 Z" fill="#fff" stroke="none" stroke-width="0"/><path d="M810 170 C1000 150 1300 170 1500 190 C1700 260 1880 420 1915 600 C1900 780 1750 900 1570 990 L1565 1200 L1360 1200 L1360 520 L1250 400 L1270 250 C1100 220 950 200 810 170 Z" fill="#e3e3e3" stroke="none" stroke-width="0"/><path d="M160 490 L190 600 L260 830 L420 950 L430 800 L220 640 Z" fill="#e3e3e3" stroke="none" stroke-width="0"/><path d="M300 300 L500 260 L480 300 L330 360 Z" fill="#e3e3e3" stroke="none" stroke-width="0"/><path d="M620 210 L740 200 L720 225 L620 225 Z" fill="#e3e3e3" stroke="none" stroke-width="0"/><path d="M500 1400 L660 1300 L700 1560 L510 1480 Z" fill="#e3e3e3" stroke="none" stroke-width="0"/><path d="M1320 1250 L1450 1290 L1540 1380 L1400 1330 Z" fill="#e3e3e3" stroke="none" stroke-width="0"/><path d="M430 990 C200 880 100 750 100 590 C100 300 520 90 1000 90 C1500 90 1915 310 1915 600 C1915 760 1800 890 1570 990" fill="none" stroke="#050505" stroke-width="5"/><path d="M420 950 L260 830 L190 600 L190 560 L260 430 L420 320 L700 240 L1000 215 L1200 230 L1450 290 L1640 380 L1760 480 L1825 600 L1825 660 L1760 830 L1570 950" fill="none" stroke="#050505" stroke-width="1.8"/><path d="M435 980 L435 800 C435 560 700 405 1000 405 C1300 405 1565 560 1565 800 L1565 990" fill="none" stroke="#050505" stroke-width="1.8"/><path d="M430 990 L430 1300 M1565 1010 L1565 1160 M1565 1215 L1565 1300" fill="none" stroke="#050505" stroke-width="5"/><path d="M430 1270 C520 1190 760 1120 1000 1115 C1250 1120 1480 1190 1570 1270 L1570 1320 C1480 1240 1250 1185 1000 1185 C760 1185 520 1240 430 1320 Z" fill="#7a7a7a" stroke="#050505" stroke-width="3.5"/><path d="M420 1300 L420 1350 L445 1380 L445 1460 C560 1570 780 1620 1000 1620 C1220 1620 1440 1570 1550 1460 L1550 1380 L1580 1350 L1580 1290" fill="none" stroke="#050505" stroke-width="5"/><path d="M455 1380 C520 1290 760 1200 1000 1200 C1240 1200 1480 1290 1545 1380" fill="none" stroke="#050505" stroke-width="1.5"/><path d="M495 1410 L560 1340 L830 1265 L1000 1250 L1330 1290 L1500 1400 L1495 1470 L1300 1560 L1000 1590 L700 1560 L510 1480 Z" fill="none" stroke="#050505" stroke-width="1.5"/><path d="M460 1400 L560 1320 L830 1245 L1000 1238 L1330 1270 L1530 1390" fill="none" stroke="#050505" stroke-width="1"/><path d="M1890 405 L2010 365" fill="none" stroke="#050505" stroke-width="1.5"/></g>
<g class="ns" transform="translate(3350,3050) scale(0.71798)"><path d="M800 480 L1415 285" fill="none" stroke="#050505" stroke-width="2.5"/><path d="M225 1005 L245 985 L280 985 L298 1005 L290 1030 L260 1040 L232 1030 Z" fill="#fff" stroke="#050505" stroke-width="5"/><path d="M238 1015 L280 1015 L282 1110 L270 1125 L250 1125 L240 1110 Z" fill="#4a4a4a" stroke="#050505" stroke-width="5"/><path d="M245 1105 L275 1105" fill="none" stroke="#fff" stroke-width="3"/><path d="M705 1005 L725 985 L760 985 L778 1005 L770 1030 L740 1040 L712 1030 Z" fill="#fff" stroke="#050505" stroke-width="5"/><path d="M718 1015 L760 1015 L762 1110 L750 1125 L730 1125 L720 1110 Z" fill="#4a4a4a" stroke="#050505" stroke-width="5"/><path d="M725 1105 L755 1105" fill="none" stroke="#fff" stroke-width="3"/><path d="M220 1245 C215 1230 230 1220 255 1220 L285 1230 L365 1335 L360 1350 L315 1340 L300 1370 L240 1285 Z" fill="#dedede" stroke="#050505" stroke-width="5"/><path d="M245 1262 L262 1252 L278 1258 L275 1270 L258 1275 L245 1270 Z" fill="#fff" stroke="#050505" stroke-width="4"/><path d="M720 1365 L745 1310 L770 1370 L790 1340 L820 1270 C825 1240 815 1220 790 1218 L760 1220 C745 1230 740 1245 740 1260 L695 1350 Z" fill="#dedede" stroke="#050505" stroke-width="5"/><path d="M765 1255 L780 1245 L798 1255 L795 1270 L778 1275 L765 1268 Z" fill="#fff" stroke="#050505" stroke-width="4"/><path d="M760 1078 L1415 1230" fill="none" stroke="#050505" stroke-width="2.5"/><path d="M780 1262 L1420 1710" fill="none" stroke="#050505" stroke-width="2.5"/></g><g font-size="85.5" text-anchor="middle"><circle cx="538" cy="516" r="62" fill="#fff" stroke="#050505" stroke-width="3.5"/><text x="538" y="542.5" textLength="45.6" lengthAdjust="spacingAndGlyphs"> </text>
<circle cx="2042" cy="164" r="62" fill="#fff" stroke="#050505" stroke-width="3.5"/><text x="2042" y="190.5" textLength="91.2" lengthAdjust="spacingAndGlyphs"> 3</text>
<circle cx="2557" cy="64.5" r="62" fill="#fff" stroke="#050505" stroke-width="3.5"/><text x="2557" y="91.0" textLength="91.2" lengthAdjust="spacingAndGlyphs"> 4</text>
<circle cx="1389" cy="1313" r="62" fill="#fff" stroke="#050505" stroke-width="3.5"/><text x="1389" y="1339.5" textLength="91.2" lengthAdjust="spacingAndGlyphs"> 2</text>
<circle cx="667" cy="1647" r="62" fill="#fff" stroke="#050505" stroke-width="3.5"/><text x="667" y="1673.5" textLength="91.2" lengthAdjust="spacingAndGlyphs">  </text>
<circle cx="1921" cy="1596" r="62" fill="#fff" stroke="#050505" stroke-width="3.5"/><text x="1921" y="1622.5" textLength="45.6" lengthAdjust="spacingAndGlyphs">6</text>
<circle cx="3134" cy="1548" r="62" fill="#fff" stroke="#050505" stroke-width="3.5"/><text x="3134" y="1574.5" textLength="91.2" lengthAdjust="spacingAndGlyphs"> 5</text>
<circle cx="3977" cy="1642" r="62" fill="#fff" stroke="#050505" stroke-width="3.5"/><text x="3977" y="1668.5" textLength="91.2" lengthAdjust="spacingAndGlyphs"> 0</text>
<circle cx="1600" cy="2942" r="62" fill="#fff" stroke="#050505" stroke-width="3.5"/><text x="1600" y="2968.5" textLength="45.6" lengthAdjust="spacingAndGlyphs">9</text>
<circle cx="1603" cy="3070" r="62" fill="#fff" stroke="#050505" stroke-width="3.5"/><text x="1603" y="3096.5" textLength="45.6" lengthAdjust="spacingAndGlyphs">8</text>
<circle cx="1592" cy="3199" r="62" fill="#fff" stroke="#050505" stroke-width="3.5"/><text x="1592" y="3225.5" textLength="45.6" lengthAdjust="spacingAndGlyphs">7</text>
<circle cx="3192" cy="3054" r="62" fill="#fff" stroke="#050505" stroke-width="3.5"/><text x="3192" y="3080.5" textLength="45.6" lengthAdjust="spacingAndGlyphs">4</text>
<circle cx="3192" cy="3181" r="62" fill="#fff" stroke="#050505" stroke-width="3.5"/><text x="3192" y="3207.5" textLength="45.6" lengthAdjust="spacingAndGlyphs">3</text>
<circle cx="3192" cy="3309" r="62" fill="#fff" stroke="#050505" stroke-width="3.5"/><text x="3192" y="3335.5" textLength="45.6" lengthAdjust="spacingAndGlyphs">2</text>
<circle cx="2091" cy="3887" r="62" fill="#fff" stroke="#050505" stroke-width="3.5"/><text x="2091" y="3913.5" textLength="91.2" lengthAdjust="spacingAndGlyphs"> 8</text>
<circle cx="4427" cy="3245" r="62" fill="#fff" stroke="#050505" stroke-width="3.5"/><text x="4427" y="3271.5" textLength="45.6" lengthAdjust="spacingAndGlyphs">5</text>
<circle cx="4427" cy="3947" r="62" fill="#fff" stroke="#050505" stroke-width="3.5"/><text x="4427" y="3973.5" textLength="91.2" lengthAdjust="spacingAndGlyphs"> 6</text>
<circle cx="4427" cy="4321" r="62" fill="#fff" stroke="#050505" stroke-width="3.5"/><text x="4427" y="4347.5" textLength="91.2" lengthAdjust="spacingAndGlyphs"> 7</text>
</g>
<path fill="#050505" d="M907.2 554.0 L907.2 502.1 L894.1 511.6 L894.1 504.4 L907.8 494.8 L914.6 494.8 L914.6 554.0Z M1183.6 554.0 L1183.6 502.1 L1170.5 511.6 L1170.5 504.4 L1184.3 494.8 L1191.1 494.8 L1191.1 554.0Z M1352.3 554.0 L1352.3 502.1 L1339.2 511.6 L1339.2 504.4 L1352.9 494.8 L1359.8 494.8 L1359.8 554.0Z M907.1 654.0 L907.1 602.1 L894.1 611.6 L894.1 604.4 L907.7 594.8 L914.5 594.8 L914.5 654.0Z M2178.3 1199.0 L2178.3 1147.7 L2165.2 1157.1 L2165.2 1150.0 L2178.9 1140.5 L2185.7 1140.5 L2185.7 1199.0Z M2346.4 1199.0 L2346.4 1147.7 L2333.4 1157.1 L2333.4 1150.0 L2347.0 1140.5 L2353.8 1140.5 L2353.8 1199.0Z M535.8 542.5 L535.8 490.9 L523.1 500.3 L523.1 493.2 L536.4 483.7 L543.1 483.7 L543.1 542.5Z M2017.0 190.5 L2017.0 138.9 L2004.3 148.3 L2004.3 141.2 L2017.6 131.7 L2024.3 131.7 L2024.3 190.5Z M2532.0 91.0 L2532.0 39.4 L2519.3 48.8 L2519.3 41.7 L2532.6 32.2 L2539.3 32.2 L2539.3 91.0Z M1364.0 1339.5 L1364.0 1287.9 L1351.3 1297.3 L1351.3 1290.2 L1364.6 1280.7 L1371.3 1280.7 L1371.3 1339.5Z M642.0 1673.5 L642.0 1621.9 L629.3 1631.3 L629.3 1624.2 L642.6 1614.7 L649.3 1614.7 L649.3 1673.5Z M687.6 1673.5 L687.6 1621.9 L674.9 1631.3 L674.9 1624.2 L688.2 1614.7 L694.9 1614.7 L694.9 1673.5Z M3109.0 1574.5 L3109.0 1522.9 L3096.3 1532.3 L3096.3 1525.2 L3109.6 1515.7 L3116.3 1515.7 L3116.3 1574.5Z M3952.0 1668.5 L3952.0 1616.9 L3939.3 1626.3 L3939.3 1619.2 L3952.6 1609.7 L3959.3 1609.7 L3959.3 1668.5Z M2066.0 3913.5 L2066.0 3861.9 L2053.3 3871.3 L2053.3 3864.2 L2066.6 3854.7 L2073.3 3854.7 L2073.3 3913.5Z M4402.0 3973.5 L4402.0 3921.9 L4389.3 3931.3 L4389.3 3924.2 L4402.6 3914.7 L4409.3 3914.7 L4409.3 3973.5Z M4402.0 4347.5 L4402.0 4295.9 L4389.3 4305.3 L4389.3 4298.2 L4402.6 4288.7 L4409.3 4288.7 L4409.3 4347.5Z"/>
</svg>
</body></html>
